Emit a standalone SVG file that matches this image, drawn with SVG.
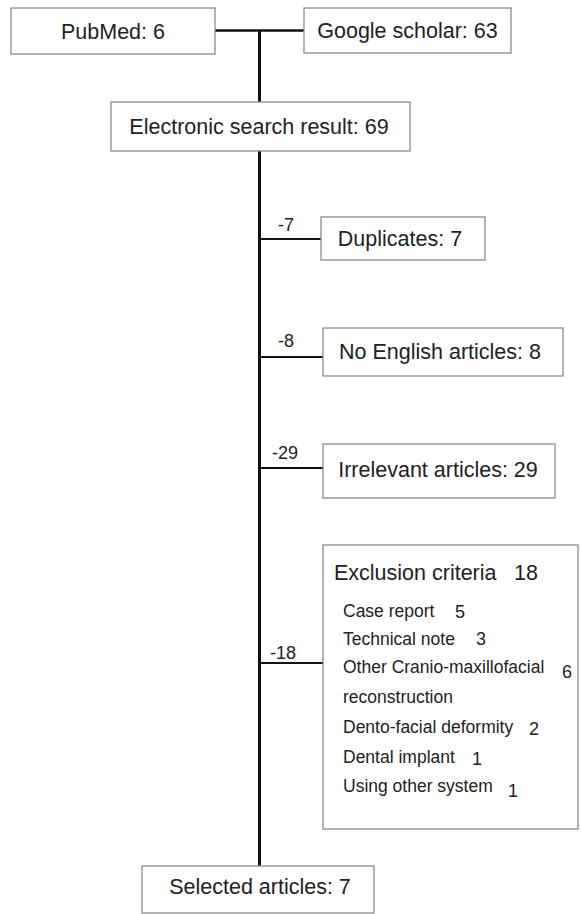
<svg xmlns="http://www.w3.org/2000/svg" width="581" height="914" viewBox="0 0 581 914">
<style>
.box{fill:#fff;stroke:#8a8a8a;stroke-width:1.3}
.t{font-family:"Liberation Sans",Arial,sans-serif;fill:#222}
.m{font-size:21.5px}
.c{text-anchor:middle}
.s{font-size:17.5px}
.n{font-size:18px}
.ln{stroke:#111;fill:none}
</style>
<rect width="581" height="914" fill="#fff"/>
<g id="connectors">
<line class="ln" x1="215" y1="30.5" x2="304" y2="30.5" stroke-width="2.5"/>
<line class="ln" x1="259.5" y1="30" x2="259.5" y2="102" stroke-width="3"/>
<line class="ln" x1="259.5" y1="151" x2="259.5" y2="866" stroke-width="3"/>
<line class="ln" x1="259" y1="239" x2="321" y2="239" stroke-width="2.2"/>
<line class="ln" x1="259" y1="357" x2="323" y2="357" stroke-width="2.2"/>
<line class="ln" x1="259" y1="468" x2="323" y2="468" stroke-width="2.2"/>
<line class="ln" x1="259" y1="663" x2="323" y2="663" stroke-width="2.2"/>
<text class="t n" x="278" y="231">-7</text>
<text class="t n" x="278" y="347">-8</text>
<text class="t n" x="272" y="459">-29</text>
<text class="t n" x="270" y="659">-18</text>
</g>
<g id="pubmed">
<rect class="box" x="11" y="8" width="204" height="46"/>
<text class="t m c" x="113" y="39">PubMed: 6</text>
</g>
<g id="google">
<rect class="box" x="304" y="8" width="207" height="45"/>
<text class="t m c" x="407.5" y="38">Google scholar: 63</text>
</g>
<g id="electronic">
<rect class="box" x="111" y="102" width="299" height="49"/>
<text class="t m c" x="259" y="134">Electronic search result: 69</text>
</g>
<g id="duplicates">
<rect class="box" x="321" y="217" width="164" height="43"/>
<text class="t m c" x="400" y="246">Duplicates: 7</text>
</g>
<g id="noenglish">
<rect class="box" x="323" y="328" width="240" height="48"/>
<text class="t m c" x="440" y="359">No English articles: 8</text>
</g>
<g id="irrelevant">
<rect class="box" x="323" y="444" width="232" height="54"/>
<text class="t m c" x="438" y="477">Irrelevant articles: 29</text>
</g>
<g id="exclusion">
<rect class="box" x="323" y="545" width="255" height="284"/>
<text class="t m" x="334" y="580">Exclusion criteria</text>
<text class="t m" x="514" y="580">18</text>
<text class="t s" x="343" y="617">Case report</text>
<text class="t n" x="455" y="618">5</text>
<text class="t s" x="343" y="645">Technical note</text>
<text class="t n" x="476" y="645">3</text>
<text class="t s" x="343" y="673">Other Cranio-maxillofacial</text>
<text class="t n" x="562" y="678">6</text>
<text class="t s" x="343" y="703">reconstruction</text>
<text class="t s" x="343" y="733">Dento-facial deformity</text>
<text class="t n" x="529" y="735">2</text>
<text class="t s" x="343" y="763">Dental implant</text>
<text class="t n" x="472" y="765">1</text>
<text class="t s" x="343" y="792">Using other system</text>
<text class="t n" x="508" y="797">1</text>
</g>
<g id="selected">
<rect class="box" x="142" y="866" width="232" height="47"/>
<text class="t m c" x="260" y="894">Selected articles: 7</text>
</g>
</svg>
